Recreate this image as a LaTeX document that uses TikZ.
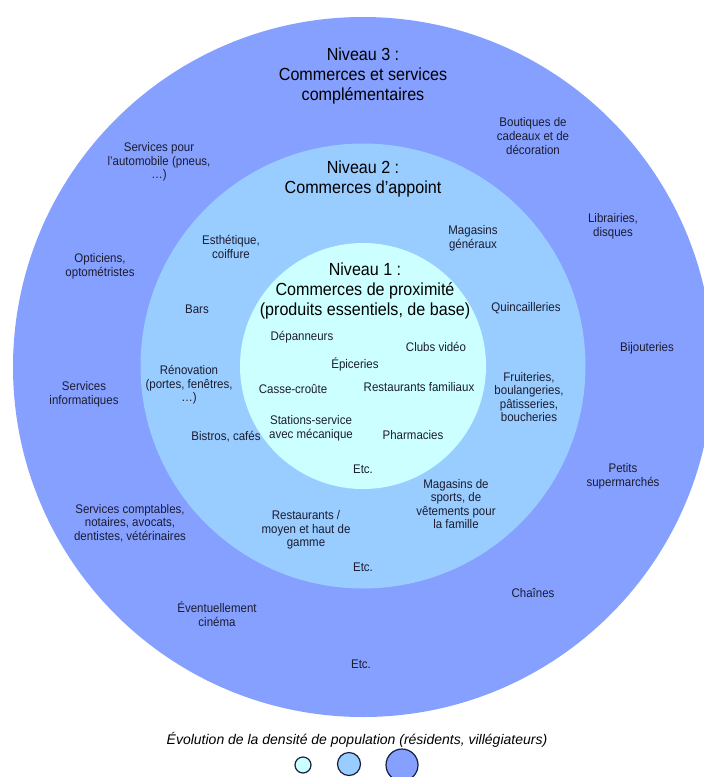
\documentclass[tikz,border=0pt]{standalone}
\usepackage{fontspec}
\setmainfont{Liberation Sans}
\newfontfamily\labfont[FakeStretch=0.92]{Liberation Sans}
\definecolor{ringthree}{RGB}{133,160,255}
\definecolor{ringtwo}{RGB}{153,204,255}
\definecolor{ringone}{RGB}{204,255,255}
\definecolor{inkc}{RGB}{28,28,48}
\definecolor{rimc}{RGB}{22,32,64}
\tikzset{
  ring/.style={draw=none},
  lab/.style={align=center, text=inkc, inner sep=0pt,
    font=\labfont\fontsize{12.5}{13.6}\selectfont},
  ttl/.style={align=center, text=black, inner sep=0pt,
    font=\labfont\fontsize{17.5}{19.8}\selectfont},
  legtxt/.style={inner sep=0pt, text=black,
    font=\itshape\fontsize{14}{16}\selectfont},
  legdot/.style={circle, draw=rimc, line width=1.2pt, inner sep=0pt}
}
\begin{document}
\begin{tikzpicture}[x=1pt, y=-1pt]
\useasboundingbox (0,0) rectangle (704,777);
\clip (0,0) rectangle (704,777);

% three nested rings
\fill[ringthree] (363,367) circle (350);
\fill[ringtwo]   (363,366) circle (222.5);
\fill[ringone]   (363,366) circle (123);

% level 3
\node[ttl] (t3) at (363,76) {Niveau 3 :\\Commerces et services\\complémentaires};
\node[lab] (boutiques) at (533,136) {Boutiques de\\cadeaux et de\\décoration};
\node[lab] (librairies) at (613,226) {Librairies,\\disques};
\node[lab] (bijoux) at (647,348) {Bijouteries};
\node[lab] (supers) at (623,476) {Petits\\supermarchés};
\node[lab] (chaines) at (533,593) {Chaînes};
\node[lab] (etc3) at (361,664) {Etc.};
\node[lab] (cinema) at (217,614) {Éventuellement\\cinéma};
\node[lab] (comptables) at (130,523) {Services comptables,\\notaires, avocats,\\dentistes, vétérinaires};
\node[lab] (info) at (84,394) {Services\\informatiques};
\node[lab] (opticiens) at (100,266) {Opticiens,\\optométristes};
\node[lab] (auto) at (159,162) {Services pour\\l’automobile (pneus,\\…)};

% level 2
\node[ttl] (t2) at (363,179) {Niveau 2 :\\Commerces d’appoint};
\node[lab] (esthetique) at (231,247) {Esthétique,\\coiffure};
\node[lab] (magasins) at (473,238) {Magasins\\généraux};
\node[lab] (bars) at (197,309) {Bars};
\node[lab] (quinc) at (526,308) {Quincailleries};
\node[lab] (renov) at (189,385) {Rénovation\\(portes, fenêtres,\\…)};
\node[lab] (fruit) at (529,397) {Fruiteries,\\boulangeries,\\pâtisseries,\\boucheries};
\node[lab] (bistros) at (226,437) {Bistros, cafés};
\node[lab] (sports) at (456,504) {Magasins de\\sports, de\\vêtements pour\\la famille};
\node[lab] (restos) at (306,530) {Restaurants /\\moyen et haut de\\gamme};
\node[lab] (etc2) at (363,567) {Etc.};

% level 1
\node[ttl] (t1) at (365,291) {Niveau 1 :\\Commerces de proximité\\(produits essentiels, de base)};
\node[lab] (depan) at (302,337) {Dépanneurs};
\node[lab] (clubs) at (436,347) {Clubs vidéo};
\node[lab] (epic) at (355,364) {Épiceries};
\node[lab] (casse) at (293,389) {Casse-croûte};
\node[lab] (restfam) at (419,387) {Restaurants familiaux};
\node[lab] (stations) at (311,428) {Stations-service\\avec mécanique};
\node[lab] (pharma) at (413,435) {Pharmacies};
\node[lab] (etc1) at (363,469) {Etc.};

% legend
\node[legtxt] (legend) at (357,740) {Évolution de la densité de population (résidents, villégiateurs)};
\node[legdot, fill=ringone, minimum size=16pt] (d1) at (303,765) {};
\node[legdot, fill=ringtwo, minimum size=23pt] (d2) at (349,764) {};
\node[legdot, fill=ringthree, minimum size=32pt] (d3) at (402,765) {};
\end{tikzpicture}
\end{document}
